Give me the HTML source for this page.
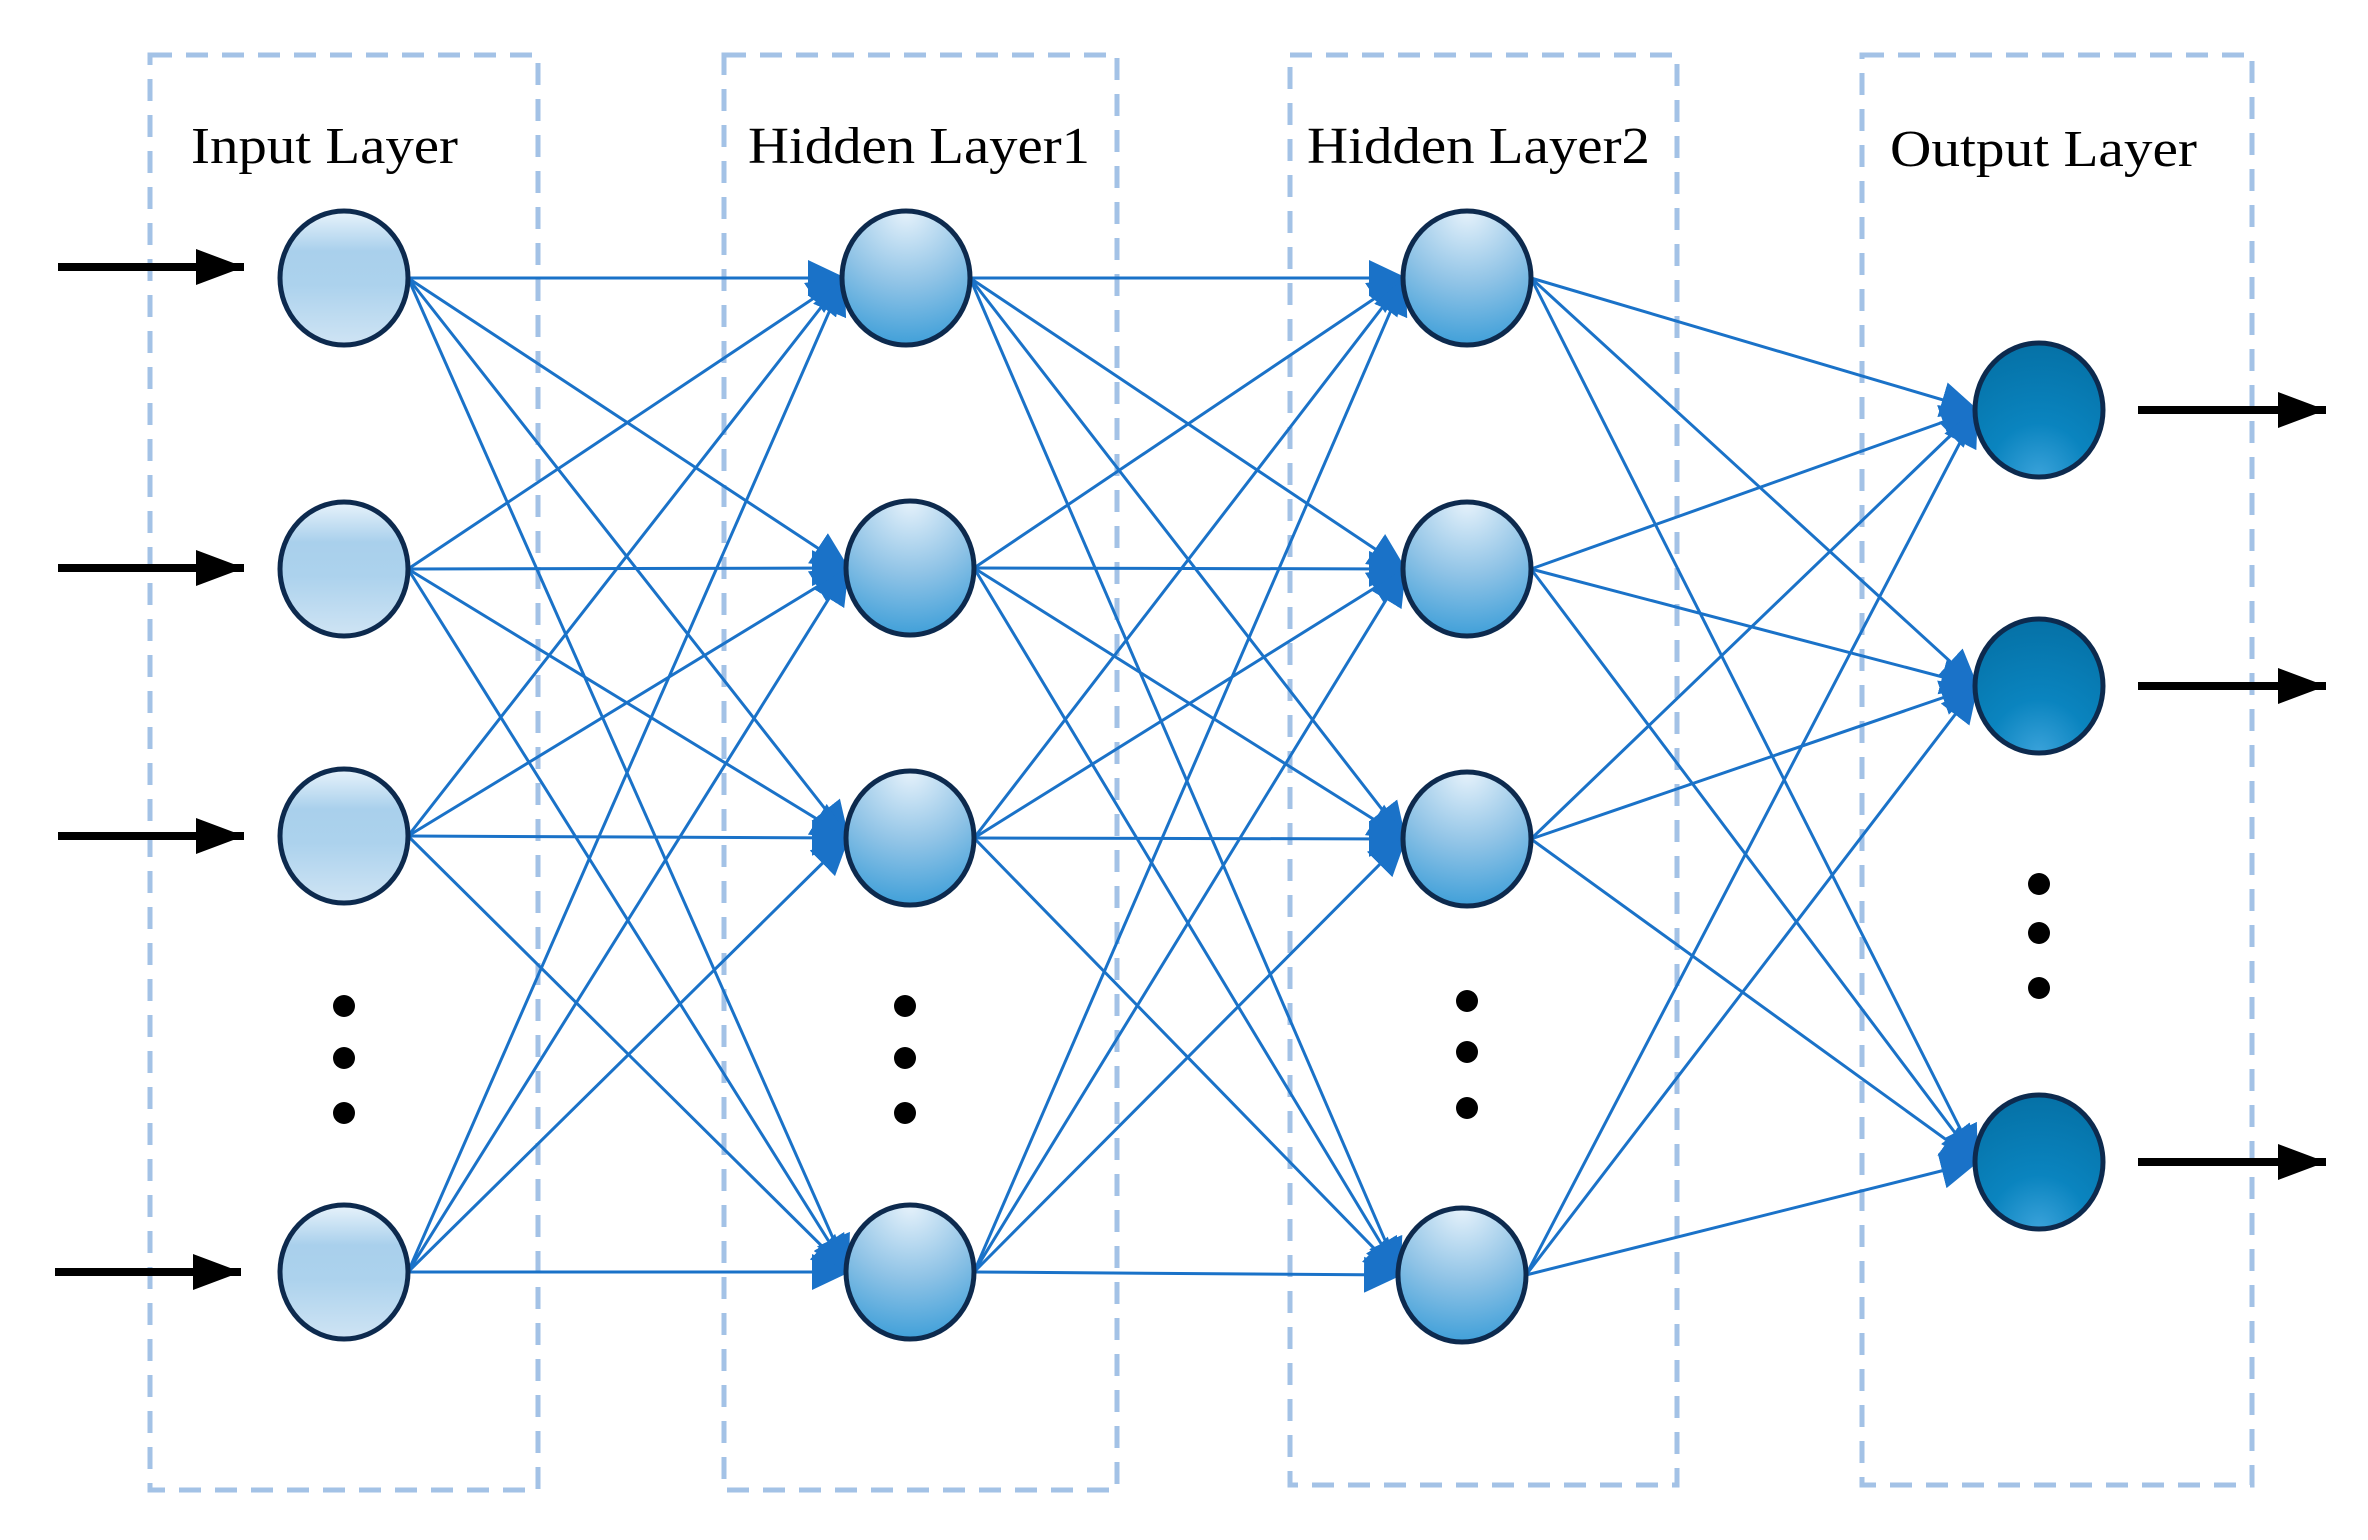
<!DOCTYPE html>
<html><head><meta charset="utf-8"><style>
html,body{margin:0;padding:0;background:#fff;}
svg{display:block;}
text{font-family:"Liberation Serif",serif;font-size:52px;fill:#000;}
</style></head><body>
<svg id="s" width="2368" height="1540" viewBox="0 0 2368 1540" xmlns="http://www.w3.org/2000/svg">
<defs>
<linearGradient id="gi" x1="0" y1="0" x2="0" y2="1">
<stop offset="0" stop-color="#e8f3fb"/><stop offset="0.3" stop-color="#a9d0ec"/><stop offset="0.55" stop-color="#acd2ed"/><stop offset="1" stop-color="#cfe4f4"/>
</linearGradient>
<radialGradient id="gh" cx="0.5" cy="0" r="1.1" fx="0.5" fy="0">
<stop offset="0" stop-color="#e6f2fb"/><stop offset="0.5" stop-color="#8fc3e6"/><stop offset="1" stop-color="#2f98d6"/>
</radialGradient>
<radialGradient id="go" cx="0.5" cy="1" r="1" fx="0.5" fy="1">
<stop offset="0" stop-color="#3aa2da"/><stop offset="0.4" stop-color="#0a84bf"/><stop offset="1" stop-color="#0571a6"/>
</radialGradient>
<marker id="ab" markerUnits="userSpaceOnUse" markerWidth="40" markerHeight="36" refX="36" refY="18" orient="auto">
<path d="M0,0 L38,18 L0,36 Z" fill="#1a72c8"/>
</marker>
<marker id="ak" markerUnits="userSpaceOnUse" markerWidth="50" markerHeight="40" refX="48" refY="20" orient="auto">
<path d="M0,2 L48,20 L0,38 Z" fill="#000"/>
</marker>
</defs>
<g fill="none" stroke="#a3c2e6" stroke-width="5" stroke-dasharray="22,14">
<rect x="150" y="55" width="388" height="1435"/>
<rect x="724" y="55" width="393" height="1435"/>
<rect x="1290" y="55" width="387" height="1430"/>
<rect x="1862" y="55" width="390" height="1430"/>
</g>
<text x="191" y="163" textLength="267" lengthAdjust="spacingAndGlyphs">Input Layer</text>
<text x="748" y="163" textLength="342" lengthAdjust="spacingAndGlyphs">Hidden Layer1</text>
<text x="1307" y="163" textLength="343" lengthAdjust="spacingAndGlyphs">Hidden Layer2</text>
<text x="1890" y="166" textLength="307" lengthAdjust="spacingAndGlyphs">Output Layer</text>
<g id="edges" stroke="#1a72c8" stroke-width="3" fill="none"></g>
<g id="nodes"></g>
<g stroke="#000" stroke-width="8">
<line x1="58" y1="267" x2="244" y2="267" marker-end="url(#ak)"/>
<line x1="58" y1="568" x2="244" y2="568" marker-end="url(#ak)"/>
<line x1="58" y1="836" x2="244" y2="836" marker-end="url(#ak)"/>
<line x1="55" y1="1272" x2="241" y2="1272" marker-end="url(#ak)"/>
<line x1="2138" y1="410" x2="2326" y2="410" marker-end="url(#ak)"/>
<line x1="2138" y1="686" x2="2326" y2="686" marker-end="url(#ak)"/>
<line x1="2138" y1="1162" x2="2326" y2="1162" marker-end="url(#ak)"/>
</g>
<g fill="#000">
<circle cx="344" cy="1006" r="11"/><circle cx="344" cy="1058" r="11"/><circle cx="344" cy="1113" r="11"/>
<circle cx="905" cy="1006" r="11"/><circle cx="905" cy="1058" r="11"/><circle cx="905" cy="1113" r="11"/>
<circle cx="1467" cy="1001" r="11"/><circle cx="1467" cy="1052" r="11"/><circle cx="1467" cy="1108" r="11"/>
<circle cx="2039" cy="884" r="11"/><circle cx="2039" cy="933" r="11"/><circle cx="2039" cy="988" r="11"/>
</g>
</svg>
<script>
var L=[
 {x:[344,344,344,344],y:[278,569,836,1272],f:'url(#gi)'},
 {x:[906,910,910,910],y:[278,568,838,1272],f:'url(#gh)'},
 {x:[1467,1467,1467,1462],y:[278,569,839,1275],f:'url(#gh)'},
 {x:[2039,2039,2039],y:[410,686,1162],f:'url(#go)'}
];
var R=64,RY=67,NS='http://www.w3.org/2000/svg';
var E=document.getElementById('edges'),N=document.getElementById('nodes');
for(var l=0;l<3;l++){var A=L[l],B=L[l+1];
 for(var i=0;i<A.x.length;i++)for(var j=0;j<B.x.length;j++){
  var x1=A.x[i]+R,y1=A.y[i],x2=B.x[j]-R+2,y2=B.y[j];
  var e=document.createElementNS(NS,'line');
  e.setAttribute('x1',x1);e.setAttribute('y1',y1);e.setAttribute('x2',x2);e.setAttribute('y2',y2);
  e.setAttribute('marker-end','url(#ab)');E.appendChild(e);}}
for(var l=0;l<4;l++){var A=L[l];for(var i=0;i<A.x.length;i++){
 var c=document.createElementNS(NS,'ellipse');
 c.setAttribute('cx',A.x[i]);c.setAttribute('cy',A.y[i]);c.setAttribute('rx',R);c.setAttribute('ry',RY);
 c.setAttribute('fill',A.f);c.setAttribute('stroke','#0d2a4e');c.setAttribute('stroke-width','5');N.appendChild(c);}}
</script>
</body></html>
